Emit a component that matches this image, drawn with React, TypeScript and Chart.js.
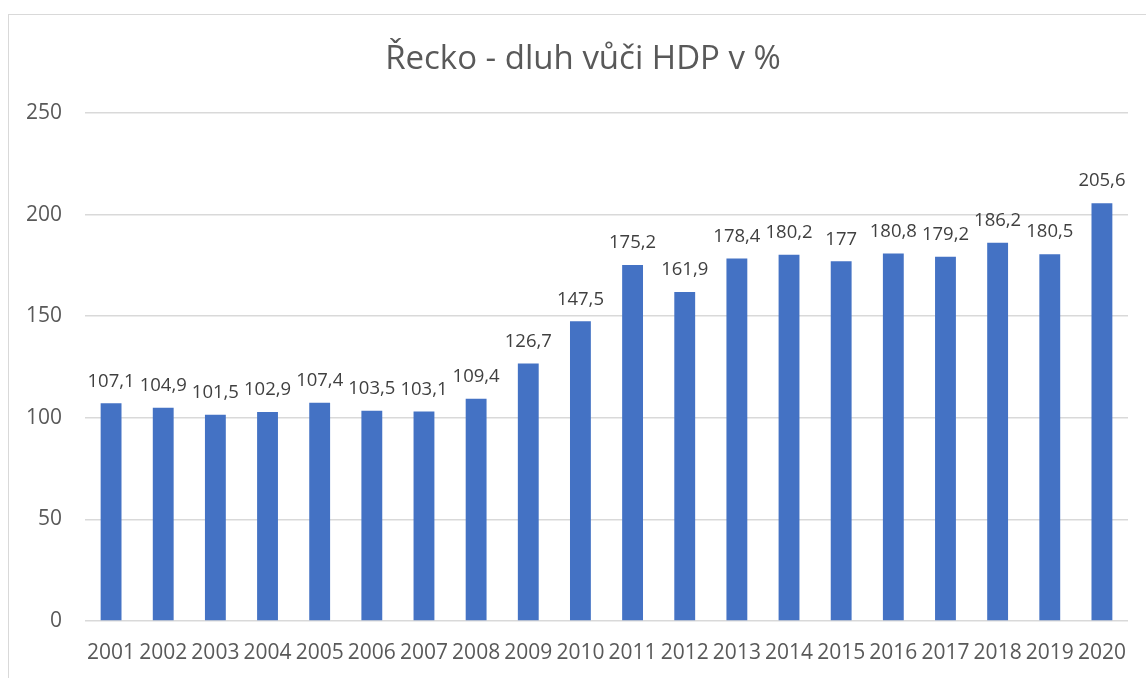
import React, { useEffect, useRef } from "react";
import { Chart, registerables } from "chart.js";

Chart.register(...registerables);

const TITLE = "Řecko - dluh vůči HDP v %";
const YEARS = ["2001","2002","2003","2004","2005","2006","2007","2008","2009","2010","2011","2012","2013","2014","2015","2016","2017","2018","2019","2020"];
const DEBT = [107.1,104.9,101.5,102.9,107.4,103.5,103.1,109.4,126.7,147.5,175.2,161.9,178.4,180.2,177,180.8,179.2,186.2,180.5,205.6];
const Y_MIN = 0;
const Y_MAX = 250;
const Y_STEP = 50;

const FONT = "'Open Sans', 'Noto Sans', sans-serif";

const valueLabels = {
  id: "valueLabels",
  afterDatasetsDraw(chart: any) {
    const ctx = chart.ctx;
    const meta = chart.getDatasetMeta(0);
    ctx.save();
    ctx.font = `18.5px ${FONT}`;
    ctx.fillStyle = "#404040";
    ctx.textAlign = "center";
    ctx.textBaseline = "middle";
    meta.data.forEach((el: any, i: number) => {
      const v = chart.data.datasets[0].data[i];
      ctx.fillText(String(v).replace(".", ","), el.x, el.y - 22);
    });
    ctx.restore();
  },
};

const titleDraw = {
  id: "titleDraw",
  afterDraw(chart: any) {
    const ctx = chart.ctx;
    ctx.save();
    ctx.font = `33px ${FONT}`;
    ctx.fillStyle = "#595959";
    ctx.textAlign = "center";
    ctx.textBaseline = "middle";
    ctx.fillText(TITLE, chart.width / 2 + 10, 60);
    ctx.restore();
  },
};

export default function App() {
  const ref = useRef<HTMLCanvasElement>(null);
  useEffect(() => {
    document.body.style.margin = "0";
    const chart = new Chart(ref.current!, {
      type: "bar",
      data: {
        labels: YEARS,
        datasets: [
          {
            data: DEBT,
            backgroundColor: "#4472C4",
            barPercentage: 0.4,
            categoryPercentage: 1,
          },
        ],
      },
      options: {
        animation: false,
        responsive: false,
        layout: { padding: { left: 0, right: 18, top: 113, bottom: 0 } },
        plugins: {
          legend: { display: false },
          tooltip: { enabled: false },
          title: { display: false },
        },
        scales: {
          x: {
            grid: { display: false, drawTicks: false },
            border: { display: false },
            ticks: {
              color: "#595959",
              font: { family: FONT, size: 21 },
              padding: 19,
              maxRotation: 0,
              autoSkip: false,
            },
            afterFit: (s: any) => { s.height = 57; },
          },
          y: {
            min: Y_MIN,
            max: Y_MAX,
            grid: { color: "#d9d9d9", lineWidth: 1.5, drawTicks: false },
            border: { display: false },
            ticks: {
              stepSize: Y_STEP,
              color: "#595959",
              font: { family: FONT, size: 21 },
              padding: 23,
            },
            afterFit: (s: any) => { s.width = 85; },
          },
        },
      },
      plugins: [valueLabels, titleDraw],
    });
    return () => chart.destroy();
  }, []);
  return (
    <div style={{ position: "relative", width: 1146, height: 678, overflow: "hidden", background: "#fff" }}>
      <canvas ref={ref} width={1146} height={678} style={{ position: "absolute", left: 0, top: 0 }} />
      <div style={{ position: "absolute", left: 8, top: 14, width: 1200, height: 700, border: "1px solid #d9d9d9", pointerEvents: "none" }} />
    </div>
  );
}
